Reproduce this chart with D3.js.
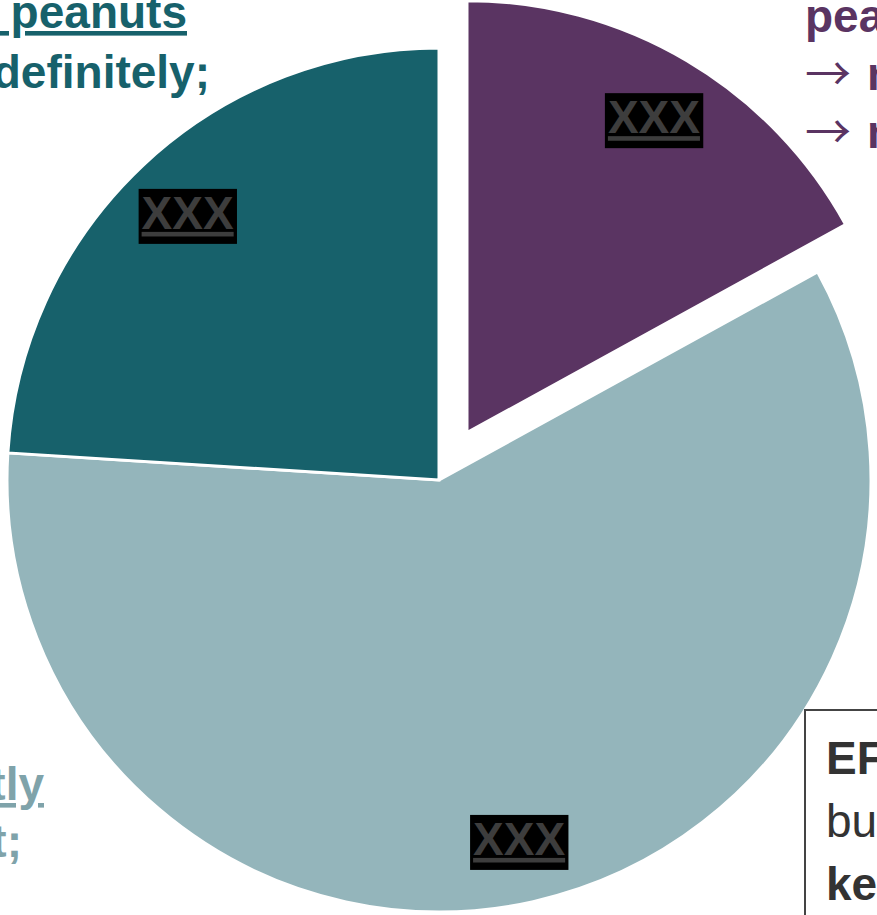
<!DOCTYPE html>
<html>
<head>
<meta charset="utf-8">
<script src="https://cdn.jsdelivr.net/npm/d3@7"></script>
<style>
  html, body { margin: 0; padding: 0; background: #fff; overflow: hidden; }
  svg { display: block; font-family: "Liberation Sans", Arial, sans-serif; }
</style>
</head>
<body>
<svg id="chart" width="877" height="915"></svg>
<script>
// ---- data ----
const categories = ["purple", "light", "teal"];
const values = [17, 59, 24];
const colors = ["#5a3462", "#94b5bb", "#17616b"];
const sliceLabels = ["XXX", "XXX", "XXX"];
const exploded = [true, false, false];

const topLeftLines = ["\u00a0peanuts", "definitely;"];
const topRightLines = [["", "pea"], ["\u2192", "n"], ["\u2192", "n"]];
const bottomLeftLines = ["tly", "t;"];
const boxLines = [["EF", "bold"], ["bu", "normal"], ["ke", "bold"]];

// ---- layout ----
const svg = d3.select("#chart");
const cx = 439, cy = 480, R = 432, explodeDist = 55;

const pie = d3.pie().sort(null).startAngle(0).endAngle(2 * Math.PI).value(d => d.v);
const arcs = pie(categories.map((c, i) => ({ c, v: values[i], i })));
const arc = d3.arc().innerRadius(0).outerRadius(R);
const labelArc = d3.arc().innerRadius(R * 0.85).outerRadius(R * 0.85);

const g = svg.append("g").attr("transform", `translate(${cx},${cy})`);

function offset(d) {
  if (!exploded[d.data.i]) return [0, 0];
  const a = (d.startAngle + d.endAngle) / 2;
  return [explodeDist * Math.sin(a), -explodeDist * Math.cos(a)];
}

const slices = g.selectAll("g.slice").data(arcs).join("g")
  .attr("class", "slice")
  .attr("transform", d => { const o = offset(d); return `translate(${o[0]},${o[1]})`; });

slices.append("path")
  .attr("d", arc)
  .attr("fill", d => colors[d.data.i])
  .attr("stroke", "#fff")
  .attr("stroke-width", 3)
  .attr("stroke-linejoin", "miter");

// inner labels (black boxes with grey underlined text)
slices.each(function (d) {
  const sel = d3.select(this);
  const [lx, ly] = labelArc.centroid(d);
  const lg = sel.append("g").attr("transform", `translate(${lx},${ly})`);
  const rect = lg.append("rect").attr("fill", "#000");
  const t = lg.append("text")
    .attr("text-anchor", "middle")
    .attr("dy", "0.36em")
    .attr("font-size", 46)
    .attr("font-weight", "bold")
    .attr("fill", "#3d3d3d")
    .style("text-decoration", "underline")
    .style("text-decoration-thickness", "4px")
    .style("text-underline-offset", "6px")
    .text(sliceLabels[d.data.i]);
  const bb = t.node().getBBox();
  rect.attr("x", bb.x - 3).attr("y", bb.y + 2).attr("width", bb.width + 6).attr("height", bb.height + 3);
});

// outside text fragments
const fs = 46;
const tl = svg.append("text").attr("font-size", fs).attr("font-weight", "bold")
  .attr("fill", colors[2]).attr("text-anchor", "end");
tl.append("tspan").attr("x", 187).attr("y", 28)
  .style("text-decoration", "underline").style("text-underline-offset", "6px")
  .text(topLeftLines[0]);
tl.append("tspan").attr("x", 210).attr("y", 88).text(topLeftLines[1]);

topRightLines.forEach((ln, i) => {
  const y = 32 + i * 58;
  const t = svg.append("text").attr("font-size", fs).attr("font-weight", "bold").attr("fill", colors[0])
    .attr("x", 805).attr("y", y);
  if (ln[0]) {
    t.append("tspan").attr("font-family", "'Noto Sans CJK JP', 'DejaVu Sans', sans-serif")
      .attr("font-weight", "normal").text(ln[0]);
    t.append("tspan").attr("dx", 16).text(ln[1]);
  } else {
    t.text(ln[1]);
  }
});

const bl = svg.append("text").attr("font-size", fs).attr("font-weight", "bold")
  .attr("fill", "#7fa3aa").attr("text-anchor", "end");
bl.append("tspan").attr("x", 44).attr("y", 800)
  .style("text-decoration", "underline").style("text-underline-offset", "6px")
  .text(bottomLeftLines[0]);
bl.append("tspan").attr("x", 22).attr("y", 857).text(bottomLeftLines[1]);

// bottom-right note box
svg.append("rect").attr("x", 805).attr("y", 710).attr("width", 200).attr("height", 300)
  .attr("fill", "#fff").attr("stroke", "#444").attr("stroke-width", 2);
const br = svg.append("text").attr("font-size", fs).attr("fill", "#333");
boxLines.forEach((ln, i) => {
  br.append("tspan").attr("x", 826).attr("y", 774 + i * 63).attr("font-weight", ln[1]).text(ln[0]);
});
</script>
</body>
</html>
